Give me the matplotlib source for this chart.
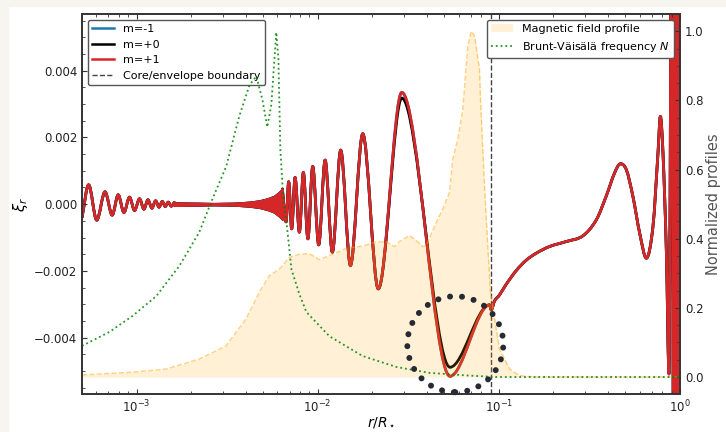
import numpy as np
import matplotlib
matplotlib.use('Agg')
import matplotlib.pyplot as plt
from matplotlib.path import Path
from matplotlib.patches import PathPatch, Circle, Rectangle
from matplotlib.lines import Line2D
from matplotlib.transforms import ScaledTranslation
from matplotlib.ticker import MultipleLocator

# --- eigenfunction xi_r ---
# inner g-mode wiggles (extrema)
r_inner = [5.0e-4, 5.44e-4, 6.03e-4, 6.70e-4, 7.34e-4, 7.92e-4, 8.52e-4, 9.15e-4,
           9.75e-4, 1.039e-3, 1.099e-3, 1.156e-3, 1.216e-3, 1.274e-3, 1.331e-3,
           1.387e-3, 1.441e-3, 1.496e-3, 1.555e-3, 1.616e-3]
xi_inner = [-0.0004, 0.00058, -0.00048, 0.00037, -0.00033, 0.00028, -0.00025, 0.00021,
            -0.00019, 0.00016, -0.00015, 0.00013, -0.00012, 0.00010, -0.00009,
            0.00008, -0.00007, 0.00006, -0.00006, 0.00005]

# unresolved dense oscillation: envelope half width
r_band = [1.616e-3, 2.084e-3, 2.687e-3, 3.466e-3, 4.195e-3, 4.764e-3, 5.275e-3,
          5.766e-3, 6.143e-3, 6.383e-3]
band_half = [0.00004, 0.00003, 0.00002, 0.00003, 0.00006, 0.0001, 0.00016,
             0.00024, 0.00036, 0.00045]

# outer part (extrema + shape points)
r_outer = [6.383e-3, 6.69e-3, 6.916e-3, 7.185e-3, 7.502e-3, 7.924e-3, 8.337e-3, 8.830e-3,
           9.385e-3, 0.01013, 0.01099, 0.01205, 0.01340, 0.01516, 0.01773, 0.02160,
           0.02911, 0.05375, 0.08885, 0.09078, 0.09467, 0.1009, 0.1099, 0.1248, 0.1417,
           0.1609, 0.1906, 0.2358, 0.2911, 0.3452, 0.3920, 0.4357, 0.4686, 0.5058,
           0.5498, 0.5990, 0.6523, 0.7092, 0.7559, 0.7793, 0.8056, 0.8413, 0.8694,
           0.9033, 0.9230, 0.9432, 0.9638, 0.9835, 1.0]
xi_p1 = [0.00045, -0.00053, 0.00067, -0.00074, 0.00080, -0.00084, 0.00095, -0.00104,
         0.00113, -0.00122, 0.00132, -0.00144, 0.00162, -0.00184, 0.00211, -0.00254,
         0.00335, -0.00516, -0.00302, -0.00317, -0.00290, -0.00272, -0.00240, -0.00199,
         -0.00168, -0.00147, -0.00127, -0.00112, -0.00095, -0.00047, 0.00025, 0.00094,
         0.00121, 0.00103, 0.00023, -0.00087, -0.00162, -0.00067, 0.00153, 0.00263,
         0.00153, -0.00147, -0.00509, 0.012, -0.012, 0.012, -0.012, 0.012, -0.003]
xi_0 = list(xi_p1)
xi_0[16] = 0.00318
xi_0[17] = -0.00489
xi_m1 = list(xi_p1)

# --- normalized profiles ---
r_bv = [5.0e-4, 7.07e-4, 9.47e-4, 1.285e-3, 1.722e-3, 2.22e-3, 2.62e-3, 3.13e-3, 3.69e-3,
        4.20e-3, 4.58e-3, 4.95e-3, 5.27e-3, 5.55e-3, 5.77e-3, 5.91e-3, 6.07e-3, 6.22e-3,
        6.46e-3, 6.72e-3, 7.16e-3, 7.92e-3, 8.66e-3, 0.0116, 0.01766, 0.02722, 0.04141,
        0.0689, 0.0888, 0.0905, 1.0]
bv = [0.090, 0.130, 0.176, 0.234, 0.321, 0.419, 0.514, 0.610, 0.754, 0.844, 0.870, 0.803,
      0.723, 0.789, 0.919, 0.997, 0.919, 0.659, 0.514, 0.451, 0.312, 0.240, 0.188, 0.118,
      0.061, 0.029, 0.012, 0.004, 0.001, 0.0, 0.0]

r_mag = [5.0e-4, 9.50e-4, 1.454e-3, 2.22e-3, 3.12e-3, 4.02e-3, 4.76e-3, 5.41e-3, 6.14e-3,
         6.98e-3, 7.92e-3, 9.00e-3, 0.01022, 0.0116, 0.01436, 0.01773, 0.02102, 0.02388,
         0.02653, 0.02828, 0.03211, 0.03422, 0.03803, 0.03972, 0.0451, 0.04905, 0.05341,
         0.0557, 0.05936, 0.06326, 0.06742, 0.0704, 0.07341, 0.07825, 0.07924, 0.08337,
         0.08967, 0.09674, 0.1009, 0.1146, 0.1301, 0.1575, 1.0]
mag = [0.006, 0.014, 0.023, 0.052, 0.090, 0.168, 0.245, 0.293, 0.312, 0.346, 0.355, 0.357,
       0.339, 0.351, 0.372, 0.379, 0.391, 0.391, 0.377, 0.392, 0.409, 0.399, 0.377, 0.380,
       0.447, 0.486, 0.534, 0.630, 0.688, 0.775, 0.957, 1.0, 0.987, 0.890, 0.80, 0.55,
       0.25, 0.139, 0.081, 0.023, 0.004, 0.0, 0.0]

r_boundary = 0.09
highlight_center = (0.0575, -0.0042)   # (r/R, xi_r)
highlight_radius = 0.48                # inches

c_blue, c_black, c_red = '#1f77b4', 'black', '#d62728'


def smooth_path(r, y):
    # cubic Hermite through the read points, in log-r space
    lx = np.log10(r)
    y = np.asarray(y, float)
    n = len(lx)
    m = np.zeros(n)
    m[0] = (y[1] - y[0]) / (lx[1] - lx[0])
    m[-1] = (y[-1] - y[-2]) / (lx[-1] - lx[-2])
    for i in range(1, n - 1):
        if (y[i] - y[i-1]) * (y[i+1] - y[i]) > 0:
            m[i] = (y[i+1] - y[i-1]) / (lx[i+1] - lx[i-1])
    verts = [(r[0], y[0])]
    codes = [Path.MOVETO]
    for i in range(n - 1):
        h = (lx[i+1] - lx[i]) / 3
        verts += [(10**(lx[i] + h), y[i] + m[i]*h),
                  (10**(lx[i+1] - h), y[i+1] - m[i+1]*h),
                  (r[i+1], y[i+1])]
        codes += [Path.CURVE4] * 3
    return Path(verts, codes)


fig = plt.figure(figsize=(7.26, 4.32), dpi=100)
ax = fig.add_axes([82/726, 1 - 394.3/432, 598/726, 380.3/432])
ax.set_xscale('log')

band_hi = np.array(band_half)
for col, xi_o in [(c_blue, xi_m1), (c_black, xi_0), (c_red, xi_p1)]:
    ax.add_patch(PathPatch(smooth_path(r_inner, xi_inner), fill=False, ec=col, lw=2,
                           joinstyle='round', capstyle='round'))
    ax.fill_between(r_band, -band_hi, band_hi, color=col, lw=1.5)
    ax.add_patch(PathPatch(smooth_path(r_outer, xi_o), fill=False, ec=col, lw=2,
                           joinstyle='round', capstyle='round'))

ax.axvline(r_boundary, color='#444444', ls='--', lw=1)

ax.set_xlim(5e-4, 1.0)
ax.set_ylim(-0.0057, 0.0057)
ax.yaxis.set_major_locator(MultipleLocator(0.002))
ax.yaxis.set_minor_locator(MultipleLocator(0.0005))
ax.tick_params(which='both', direction='in', top=True, right=False, labelsize=8.5,
               colors='#333333', labelcolor='#222222')
ax.set_xlabel(r'$r/R_\star$', fontsize=10, labelpad=0)
ax.set_ylabel(r'$\xi_r$', fontsize=10.5, labelpad=3)

handles = [Line2D([], [], color=c_blue, lw=1.8, label='m=-1'),
           Line2D([], [], color=c_black, lw=1.8, label='m=+0'),
           Line2D([], [], color=c_red, lw=1.8, label='m=+1'),
           Line2D([], [], color='#444444', ls='--', lw=1, label='Core/envelope boundary')]
leg = ax.legend(handles=handles, loc='upper left', fontsize=8, framealpha=1,
                edgecolor='#555555')

ax2 = ax.twinx()
ax2.fill_between(r_mag, 0, mag, color='orange', alpha=0.16, lw=0,
                 label='Magnetic field profile')
ax2.plot(r_mag, mag, color='orange', alpha=0.5, ls='--', lw=1)
ax2.plot(r_bv, bv, color='green', ls=':', lw=1.3, alpha=0.85,
         label='Brunt-Väisälä frequency $N$')
ax2.set_ylim(-0.05, 1.05)
ax2.yaxis.set_major_locator(MultipleLocator(0.2))
ax2.yaxis.set_minor_locator(MultipleLocator(0.05))
ax2.tick_params(which='both', direction='in', labelsize=8.5, colors='#333333',
                labelcolor='#222222')
ax2.set_ylabel('Normalized profiles', fontsize=10.5, color='#555555', labelpad=2)
ax2.legend(loc='upper right', fontsize=8, framealpha=1, edgecolor='#555555')

for a in (ax, ax2):
    for s in a.spines.values():
        s.set_color('#333333')
        s.set_linewidth(1.2)

# dotted highlight ring around the envelope trough
ring_tr = fig.dpi_scale_trans + ScaledTranslation(*highlight_center, ax.transData)
fig.add_artist(Circle((0, 0), highlight_radius, transform=ring_tr, fill=False,
                      ec='#262a33', lw=4.3, ls=(0, (0.01, 2.0)), capstyle='round',
                      zorder=10, clip_on=False))

# light page margin on the top and left edge
fig.add_artist(Rectangle((0, 1 - 6/432), 1, 6/432, transform=fig.transFigure,
                         color='#f6f5f0', zorder=-1))
fig.add_artist(Rectangle((0, 0), 8/726, 1, transform=fig.transFigure,
                         color='#f6f5f0', zorder=-1))

fig.savefig('out.png', dpi=100)
